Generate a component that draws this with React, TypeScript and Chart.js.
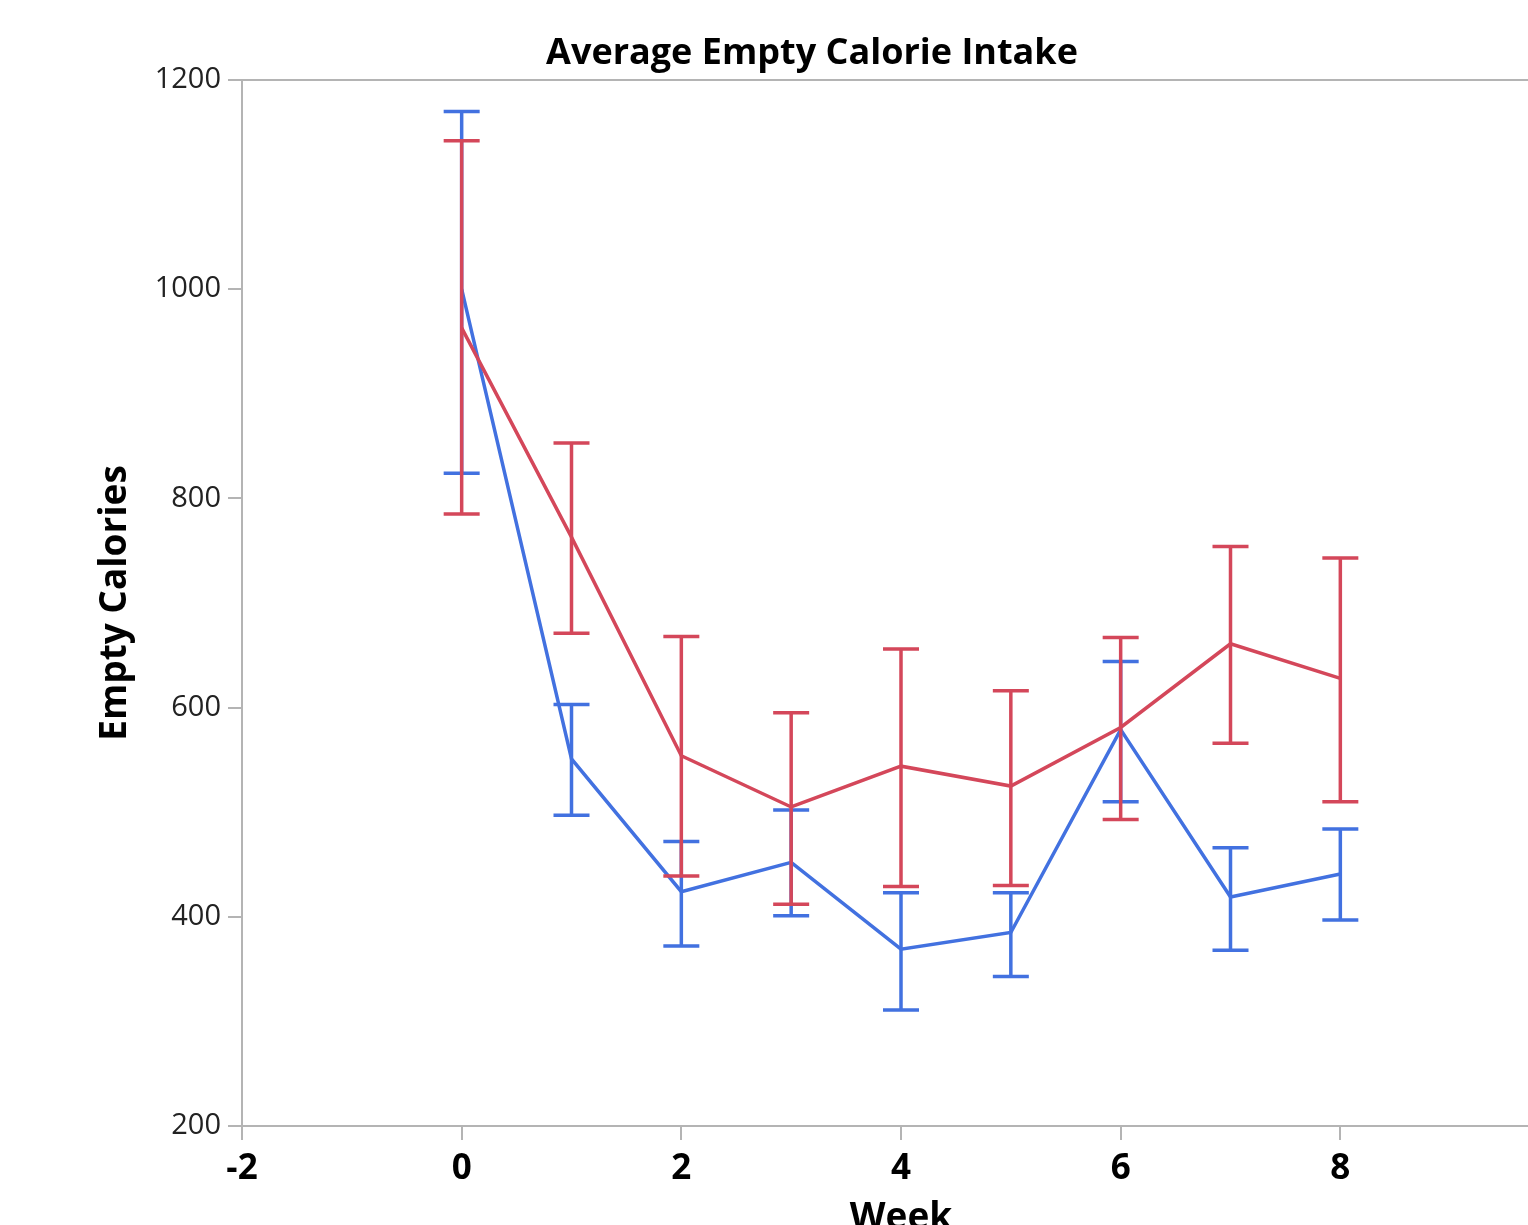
import React, { useEffect, useRef } from "react";
import { Chart, registerables } from "chart.js";

Chart.register(...registerables);

// ---- data ----
const weeks = [0, 1, 2, 3, 4, 5, 6, 7, 8];
const blueMean = [1000, 551, 424, 452, 369, 385, 579, 419, 441];
const blueLow = [824, 497, 372, 401, 311, 343, 510, 368, 397];
const blueHigh = [1170, 603, 472, 502, 423, 423, 644, 466, 484];
const redMean = [963, 763, 554, 505, 544, 525, 581, 661, 628];
const redLow = [785, 671, 439, 412, 429, 430, 493, 566, 510];
const redHigh = [1142, 853, 668, 595, 656, 616, 667, 754, 743];
const xTickValues = [-2, 0, 2, 4, 6, 8, 10];
const yTickValues = [200, 400, 600, 800, 1000, 1200];

const BLUE = "#4271e0";
const RED = "#d4475a";
const AXIS = "#b4b4b4";
const FONT = "'Open Sans', 'Noto Sans', sans-serif";

const W = 1624;
const H = 1300;
const PLOT_LEFT = 242;
const PLOT_BOTTOM = 1126;
const RIGHT_GAP = 64;

const errorBarPlugin = {
  id: "errorBars",
  afterDatasetDraw(chart: any, args: any) {
    const ds: any = chart.data.datasets[args.index];
    if (!ds.errLow) return;
    const xs = chart.scales.x;
    const ys = chart.scales.y;
    const ctx = chart.ctx;
    ctx.save();
    ctx.strokeStyle = ds.borderColor;
    ctx.lineWidth = 3.5;
    ctx.lineCap = "butt";
    const cap = 18;
    ds.data.forEach((pt: any, i: number) => {
      const px = xs.getPixelForValue(pt.x);
      const lo = ys.getPixelForValue(ds.errLow[i]);
      const hi = ys.getPixelForValue(ds.errHigh[i]);
      ctx.beginPath();
      ctx.moveTo(px, lo);
      ctx.lineTo(px, hi);
      ctx.moveTo(px - cap, lo);
      ctx.lineTo(px + cap, lo);
      ctx.moveTo(px - cap, hi);
      ctx.lineTo(px + cap, hi);
      ctx.stroke();
    });
    ctx.restore();
  },
};

const frameTopPlugin = {
  id: "frameTop",
  beforeDatasetsDraw(chart: any) {
    const { ctx, chartArea } = chart;
    ctx.save();
    ctx.strokeStyle = AXIS;
    ctx.lineWidth = 2;
    ctx.beginPath();
    ctx.moveTo(chartArea.left, chartArea.top);
    ctx.lineTo(chartArea.right, chartArea.top);
    ctx.stroke();
    ctx.restore();
  },
};

export default function App() {
  const ref = useRef<HTMLCanvasElement | null>(null);

  useEffect(() => {
    if (!ref.current) return;
    const chart = new Chart(ref.current, {
      type: "line",
      data: {
        datasets: [
          {
            label: "Red",
            data: weeks.map((w, i) => ({ x: w, y: redMean[i] })),
            borderColor: RED,
            backgroundColor: RED,
            borderWidth: 3.5,
            pointRadius: 0,
            tension: 0,
            errLow: redLow,
            errHigh: redHigh,
          } as any,
          {
            label: "Blue",
            data: weeks.map((w, i) => ({ x: w, y: blueMean[i] })),
            borderColor: BLUE,
            backgroundColor: BLUE,
            borderWidth: 3.5,
            pointRadius: 0,
            tension: 0,
            errLow: blueLow,
            errHigh: blueHigh,
          } as any,
        ],
      },
      options: {
        responsive: false,
        animation: false,
        devicePixelRatio: 1,
        layout: { padding: 0 },
        plugins: {
          legend: { display: false },
          tooltip: { enabled: false },
          title: {
            display: true,
            text: "Average Empty Calorie Intake",
            color: "#000",
            font: { family: FONT, size: 36, weight: "bold" },
            padding: { top: 32, bottom: 80 - 32 - 36 * 1.2 },
          },
        },
        scales: {
          x: {
            type: "linear",
            min: -2,
            max: 10,
            afterBuildTicks: (s: any) => {
              s.ticks = xTickValues.map((v) => ({ value: v }));
            },
            afterFit: (s: any) => {
              s.height = H - PLOT_BOTTOM;
            },
            ticks: {
              color: "#000",
              font: { family: FONT, size: 35, weight: "bold" },
              padding: 8,
              callback: (v: any) => String(v),
            },
            grid: {
              drawOnChartArea: false,
              drawTicks: true,
              tickLength: 14,
              color: AXIS,
              lineWidth: 2,
            },
            border: { display: true, color: AXIS, width: 2 },
            title: {
              display: true,
              text: "Week",
              color: "#000",
              font: { family: FONT, size: 37, weight: "bold" },
              padding: { top: 0, bottom: 59 },
            },
          },
          y: {
            type: "linear",
            min: 200,
            max: 1200,
            afterBuildTicks: (s: any) => {
              s.ticks = yTickValues.map((v) => ({ value: v }));
            },
            afterFit: (s: any) => {
              s.width = PLOT_LEFT;
            },
            ticks: {
              color: "#222",
              font: { family: FONT, size: 29 },
              padding: 7,
              callback: (v: any) => String(v),
            },
            grid: {
              drawOnChartArea: false,
              drawTicks: true,
              tickLength: 14,
              color: AXIS,
              lineWidth: 2,
            },
            border: { display: true, color: AXIS, width: 2 },
            title: {
              display: true,
              text: "Empty Calories",
              color: "#000",
              font: { family: FONT, size: 37, weight: "bold" },
              padding: { top: 93, bottom: 0 },
            },
          },
          gap: {
            type: "linear",
            position: "right",
            display: true,
            grid: { display: false },
            border: { display: false },
            ticks: { display: false },
            afterFit: (s: any) => {
              s.width = RIGHT_GAP;
            },
          },
        },
      },
      plugins: [frameTopPlugin, errorBarPlugin],
    } as any);
    return () => chart.destroy();
  }, []);

  return (
    <div
      style={{
        position: "fixed",
        left: 0,
        top: 0,
        width: 1528,
        height: 1225,
        overflow: "hidden",
        background: "#fff",
      }}
    >
      <canvas
        ref={ref}
        width={W}
        height={H}
        style={{ position: "absolute", left: 0, top: 0, width: W, height: H }}
      />
    </div>
  );
}
